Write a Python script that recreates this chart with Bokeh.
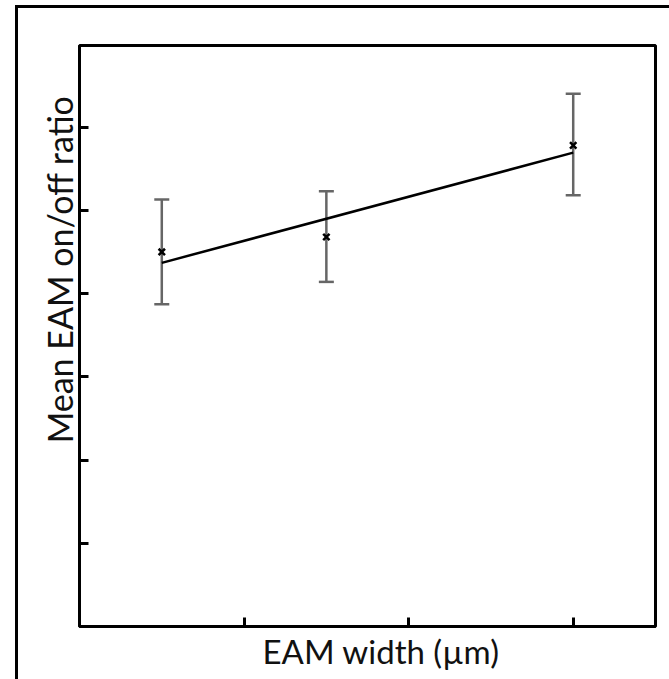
import numpy as np
from bokeh.plotting import figure
from bokeh.models import ColumnDataSource, Whisker, TeeHead, FixedTicker, Range1d, Title
from bokeh.embed import file_html
from bokeh.resources import INLINE

# Data
eam_width = [1, 3, 6]
mean_ratio = [4.50, 4.68, 5.78]
err_upper = [5.13, 5.23, 6.40]
err_lower = [3.87, 4.14, 5.18]
x_ticks = [2, 4, 6]
y_ticks = [1, 2, 3, 4, 5, 6]

slope, intercept = np.polyfit(eam_width, mean_ratio, 1)
fit_x = [eam_width[0], eam_width[-1]]
fit_y = [slope * v + intercept for v in fit_x]

p = figure(width=669, height=679, output_backend="svg", toolbar_location=None,
           x_range=Range1d(0, 7), y_range=Range1d(0, 6.98),
           min_border_left=79, min_border_top=45, min_border_right=14, min_border_bottom=53)
# outer picture border (left and top edges visible; right/bottom fall outside the picture)
p.styles = {
    "background-color": "white",
    "background-image": "linear-gradient(black, black), linear-gradient(black, black)",
    "background-size": "3px 700px, 700px 3px",
    "background-position": "15px 5px, 15px 5px",
    "background-repeat": "no-repeat",
}
p.grid.visible = False
p.outline_line_color = "black"
p.outline_line_width = 3
p.background_fill_color = "white"
p.border_fill_alpha = 0

for ax in (p.xaxis[0], p.yaxis[0]):
    ax.axis_line_width = 3
    ax.axis_line_color = "black"
    ax.major_tick_in = 9
    ax.major_tick_out = 0
    ax.major_tick_line_width = 3
    ax.minor_tick_line_color = None
    ax.major_label_text_font_size = "1px"
    ax.major_label_text_alpha = 0
    ax.major_label_standoff = 0

p.xaxis[0].ticker = FixedTicker(ticks=x_ticks)
p.yaxis[0].ticker = FixedTicker(ticks=y_ticks)
p.xaxis[0].major_label_overrides = {t: "" for t in x_ticks}
p.yaxis[0].major_label_overrides = {t: "" for t in y_ticks}

xlab = Title(text="EAM width (µm)", align="left", offset=183,
             text_font="Lato", text_font_size="33px", text_font_style="normal",
             text_color="#111111", standoff=4)
p.add_layout(xlab, "below")

ylab = Title(text="Mean EAM on/off ratio", align="right", offset=50,
             text_font="Lato", text_font_size="34px", text_font_style="normal",
             text_color="#111111", standoff=0)
p.add_layout(ylab, "left")

src = ColumnDataSource(dict(x=eam_width, y=mean_ratio, up=err_upper, lo=err_lower))
w = Whisker(base="x", upper="up", lower="lo", source=src,
            line_color="#666666", line_width=2.5,
            upper_head=TeeHead(size=15, line_color="#666666", line_width=2.5),
            lower_head=TeeHead(size=15, line_color="#666666", line_width=2.5))
p.add_layout(w)

p.line(fit_x, fit_y, line_color="black", line_width=2.5)
p.scatter("x", "y", source=src, marker="x", size=9, line_color="black", line_width=2.5)

open("out.html", "w").write(file_html(p, INLINE))
